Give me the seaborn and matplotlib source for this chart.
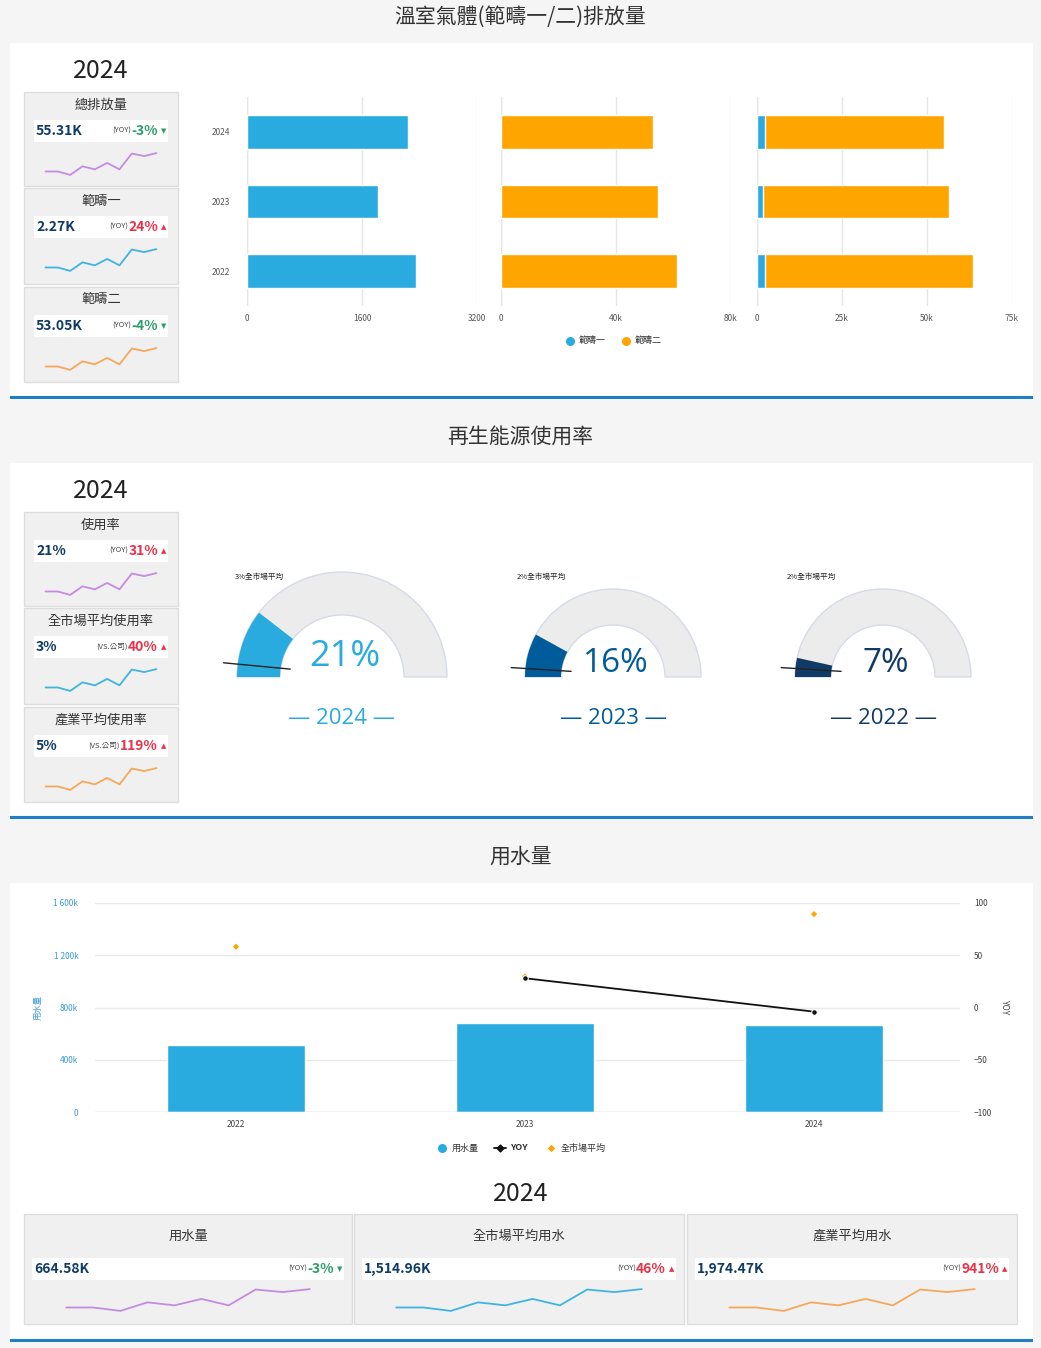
import numpy as np
import pandas as pd
import matplotlib
matplotlib.use("Agg")
import matplotlib.pyplot as plt
import seaborn as sns
from matplotlib.patches import Rectangle, Wedge

sns.set_theme(style="white")
plt.rcParams['font.family'] = ['Noto Sans CJK TC', 'DejaVu Sans']

W, H = 1041, 1348
# ---------------- data ----------------
years = ["2024", "2023", "2022"]
scope1 = [2240, 1823, 2351]
scope2 = [52900, 54600, 61200]
ghg_kpi_titles = ["總排放量", "範疇一", "範疇二"]
ghg_kpi_values = ["55.31K", "2.27K", "53.05K"]
ghg_kpi_yoy = [-3, 24, -4]
spark = [3.0, 3.0, 2.2, 4.2, 3.5, 5.0, 3.5, 7.2, 6.6, 7.3]

re_kpi_titles = ["使用率", "全市場平均使用率", "產業平均使用率"]
re_kpi_values = ["21%", "3%", "5%"]
re_kpi_tags = ["(YOY)", "(VS.公司)", "(VS.公司)"]
re_kpi_yoy = [31, 40, 119]
gauge_years = ["2024", "2023", "2022"]
gauge_rate = [21, 16, 7]
gauge_market = [3, 2, 2]

water_years = ["2022", "2023", "2024"]
water_use = [515, 685, 664.58]          # k
water_yoy = [np.nan, 28, -4]
water_market = [1265, 1037, 1514.96]    # k
water_kpi_titles = ["用水量", "全市場平均用水", "產業平均用水"]
water_kpi_values = ["664.58K", "1,514.96K", "1,974.47K"]
water_kpi_yoy = [-3, 46, 941]

BLUE = "#29abe0"
ORANGE = "#ffa500"
GREEN = "#2e9e6b"
RED = "#e8334a"
NAVY = "#0f3b66"
spark_colors = ["#c58be0", "#40b4e0", "#f5a85a"]

fig = plt.figure(figsize=(W/100, H/100), dpi=100)
fig.patch.set_facecolor("#f5f5f5")
bg = fig.add_axes([0, 0, 1, 1])
bg.set_xlim(0, W); bg.set_ylim(H, 0); bg.axis("off")
bg.set_zorder(0)

def ax_px(x0, y0, x1, y1):
    return fig.add_axes([x0/W, 1-y1/H, (x1-x0)/W, (y1-y0)/H])

def rect(x0, y0, x1, y1, fc, ec="none", lw=0):
    bg.add_patch(Rectangle((x0, y0), x1-x0, y1-y0, fc=fc, ec=ec, lw=lw))

# panels
for (t, ty, p0, p1) in [("溫室氣體(範疇一/二)排放量", 17, 43, 395),
                        ("再生能源使用率", 437, 463, 815),
                        ("用水量", 857, 883, 1338)]:
    bg.text(W/2, ty, t, ha="center", va="center", fontsize=15, color="#333333")
    rect(10, p0, 1033, p1, "white")
    rect(10, p1+1, 1033, p1+4, "#1f7fc4")

def yoy_strip(x0, x1, sy, value, tag, yoy):
    bg.text(x0+2, sy+11, value, ha="left", va="center", fontsize=10, fontweight="bold", color=NAVY)
    col = GREEN if yoy < 0 else RED
    arrow = "▼" if yoy < 0 else "▲"
    bg.text(x1-2, sy+11, arrow, ha="right", va="center", fontsize=5, color=col, family="DejaVu Sans")
    s = f"{yoy}%"
    bg.text(x1-10, sy+11, s, ha="right", va="center", fontsize=10, fontweight="bold", color=col)
    wpx = sum(5.0 if ch == "-" else 11.0 if ch == "%" else 8.0 for ch in s)
    bg.text(x1-13-wpx, sy+11, tag, ha="right", va="center", fontsize=5.5, color="#444")

def kpi_card(x0, y0, x1, y1, title, value, tag, yoy, scolor):
    rect(x0, y0, x1, y1, "#f0f0f0", "#dddddd", 1)
    bg.text((x0+x1)/2, y0+13, title, ha="center", va="center", fontsize=9.5, color="#333")
    sy = y0+28
    rect(x0+10, sy, x1-10, sy+22, "white")
    yoy_strip(x0+10, x1-10, sy, value, tag, yoy)
    a = ax_px(x0+16, sy+32, x1-16, sy+56)
    sns.lineplot(x=np.arange(len(spark)), y=spark, ax=a, color=scolor, lw=1.3)
    a.axis("off")

# ---- section 1 ----
bg.text(101, 71, "2024", ha="center", va="center", fontsize=18, color="#222")
for i, (y0, y1) in enumerate([(92, 186), (188, 284), (287, 382)]):
    kpi_card(24, y0, 178, y1, ghg_kpi_titles[i], ghg_kpi_values[i], "(YOY)", ghg_kpi_yoy[i], spark_colors[i])

df = pd.DataFrame({"year": years, "s1": scope1, "s2": scope2})
df["tot"] = df.s1 + df.s2
specs = [(247, 477, "s1", BLUE, 3200, [0, 1600, 3200], ["0", "1600", "3200"]),
         (501, 731, "s2", ORANGE, 80000, [0, 40000, 80000], ["0", "40k", "80k"]),
         (757, 1012, "tot", ORANGE, 75000, [0, 25000, 50000, 75000], ["0", "25k", "50k", "75k"])]
for k, (x0, x1, col, c, mx, tk, tl) in enumerate(specs):
    a = ax_px(x0, 97, x1, 306)
    sns.barplot(data=df, y="year", x=col, color=c, ax=a, width=0.48, saturation=1, orient="h")
    if k == 2:
        sns.barplot(data=df, y="year", x="s1", color=BLUE, ax=a, width=0.48, saturation=1, orient="h")
    a.set_xlim(0, mx); a.set_xticks(tk); a.set_xticklabels(tl)
    a.tick_params(axis="x", labelsize=6, colors="#555", length=0, pad=6)
    a.set_xlabel(""); a.set_ylabel("")
    if k == 0:
        a.tick_params(axis="y", labelsize=6, colors="#555", length=0, pad=12)
    else:
        a.set_yticks([])
    a.grid(axis="x", color="#e6e6e6", lw=1)
    a.set_axisbelow(True)
    for s in a.spines.values(): s.set_visible(False)
    a.axvline(0, color="#dde3ee", lw=1, zorder=0)
for (lx, lab, c) in [(570, "範疇一", BLUE), (626, "範疇二", ORANGE)]:
    bg.scatter([lx], [341], s=30, color=c, zorder=3)
    bg.text(lx+9, 341, lab, va="center", fontsize=6.5, color="#333")

# ---- section 2 ----
bg.text(101, 491, "2024", ha="center", va="center", fontsize=18, color="#222")
for i, (y0, y1) in enumerate([(512, 606), (608, 704), (707, 802)]):
    kpi_card(24, y0, 178, y1, re_kpi_titles[i], re_kpi_values[i], re_kpi_tags[i], re_kpi_yoy[i], spark_colors[i])

gcols = [BLUE, "#005b9a", NAVY]
geo = [(342, 105, 62), (613, 88, 52), (883, 88, 52)]
by = 677
for i in range(3):
    cx, R, r = geo[i]
    bg.add_patch(Wedge((cx, by), R, 180, 360, width=R-r, fc="#ececec", ec="#d5dbe6", lw=1, zorder=2))
    ang = 180 + 180*gauge_rate[i]/100
    bg.add_patch(Wedge((cx, by), R, 180, ang, width=R-r, fc=gcols[i], ec="none", zorder=3))
    ma = np.deg2rad(180*gauge_market[i]/100)
    r0, r1 = r - 10, R + 14
    bg.plot([cx - r0*np.cos(ma), cx - r1*np.cos(ma)],
            [by - 3 - r0*np.sin(ma), by - 3 - r1*np.sin(ma)],
            color="#222", lw=1, zorder=4)
    bg.text(cx+3, by-20 if i == 0 else by-13, f"{gauge_rate[i]}%", ha="center", va="center",
            fontsize=26 if i == 0 else 24, color=gcols[i], family="Open Sans")
    bg.text(cx, 718, f"— {gauge_years[i]} —", ha="center", va="center", fontsize=16,
            color=gcols[i], family="Open Sans")
    bg.text(cx - R - 2 if i == 0 else cx - R - 8, 577, f"{gauge_market[i]}%全市場平均",
            ha="left", va="center", fontsize=5.5, color="#222")

# ---- section 3 ----
wdf = pd.DataFrame({"year": water_years, "use": water_use, "yoy": water_yoy, "mkt": water_market})
a = ax_px(95, 903, 960, 1112)
sns.barplot(data=wdf, x="year", y="use", color=BLUE, ax=a, width=0.48, saturation=1)
sns.scatterplot(data=wdf, x="year", y="mkt", ax=a, color=ORANGE, marker="D", s=10, zorder=5, edgecolor="none")
a.set_xlim(-0.488, 2.505)
a.set_ylim(0, 1600); a.set_yticks([0, 400, 800, 1200, 1600])
a.set_yticklabels(["0", "400k", "800k", "1 200k", "1 600k"])
a.tick_params(axis="y", labelsize=6, colors="#3a9ad9", length=0, pad=12)
a.tick_params(axis="x", labelsize=6, colors="#444", length=0, pad=6)
a.set_xlabel(""); a.set_ylabel("用水量", fontsize=6, color="#3a9ad9", labelpad=8)
a.grid(axis="y", color="#e8e8ee", lw=1); a.set_axisbelow(True)
for s in a.spines.values(): s.set_visible(False)
a.axhline(0, color="#ccd6eb", lw=1)
a2 = a.twinx()
sns.lineplot(data=wdf, x="year", y="yoy", ax=a2, color="#111", lw=1.3, marker="o", markersize=4)
a2.set_xlim(-0.488, 2.505)
a2.set_ylim(-100, 100); a2.set_yticks([-100, -50, 0, 50, 100])
a2.tick_params(axis="y", labelsize=6, colors="#444", length=0, pad=10)
a2.set_ylabel("YOY", fontsize=6, color="#444", rotation=270, labelpad=12)
a2.set_xlabel("")
for s in a2.spines.values(): s.set_visible(False)
bg.scatter([442], [1148], s=30, color=BLUE, zorder=3)
bg.text(452, 1148, "用水量", va="center", fontsize=6.5, color="#333")
bg.plot([494, 506], [1148, 1148], color="#111", lw=1.3, zorder=3)
bg.scatter([500], [1148], s=12, color="#111", marker="D", zorder=3)
bg.text(510, 1148, "YOY", va="center", fontsize=6.5, color="#333", fontweight="bold")
bg.scatter([551], [1148], s=8, color=ORANGE, marker="D", zorder=3)
bg.text(561, 1148, "全市場平均", va="center", fontsize=6.5, color="#333")

bg.text(W/2, 1194, "2024", ha="center", va="center", fontsize=18, color="#222")
for i, (x0, x1) in enumerate([(24, 352), (354, 684), (687, 1017)]):
    rect(x0, 1214, x1, 1324, "#f0f0f0", "#dddddd", 1)
    bg.text((x0+x1)/2, 1236, water_kpi_titles[i], ha="center", va="center", fontsize=9.5, color="#333")
    rect(x0+8, 1258, x1-8, 1280, "white")
    yoy_strip(x0+8, x1-8, 1258, water_kpi_values[i], "(YOY)", water_kpi_yoy[i])
    sa = ax_px(x0+30, 1288, x1-30, 1312)
    sns.lineplot(x=np.arange(len(spark)), y=spark, ax=sa, color=spark_colors[i], lw=1.3)
    sa.axis("off")

fig.savefig("out.png", dpi=100, facecolor=fig.get_facecolor())
